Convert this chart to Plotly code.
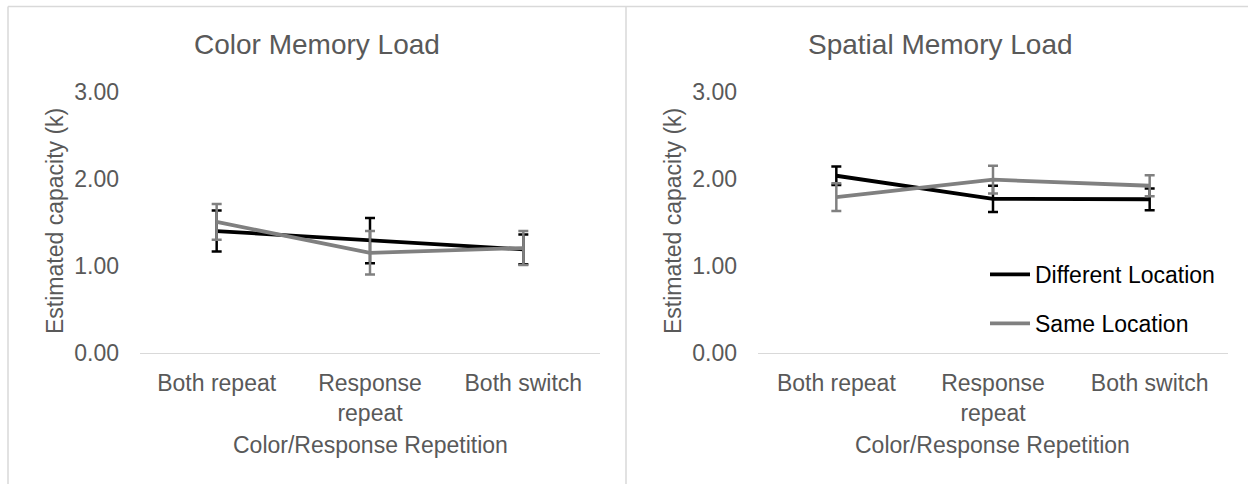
import plotly.graph_objects as go

# Condition labels on the horizontal axis
categories = ["Both repeat", "Response<br>repeat", "Both switch"]
y_ticks = [0, 1, 2, 3]

# Color memory load: estimated capacity (k) and error half-widths
color_diff = [1.40, 1.29, 1.19]
color_diff_err = [0.235, 0.26, 0.17]
color_same = [1.505, 1.15, 1.205]
color_same_err = [0.205, 0.25, 0.195]

# Spatial memory load
spatial_diff = [2.035, 1.77, 1.765]
spatial_diff_err = [0.105, 0.15, 0.125]
spatial_same = [1.79, 1.99, 1.92]
spatial_same_err = [0.16, 0.16, 0.12]

W, H = 1248, 484
BLACK = "#000000"
GRAY = "#808080"
TEXT = "#595959"
FRAME = "#d9d9d9"
FONT = "Liberation Sans, Arial, sans-serif"


def px(x):
    return x / W


def py(y):
    return 1 - y / H


def series(x_ax, y_ax, vals, errs, color, name, show):
    return go.Scatter(
        x=categories, y=vals, mode="lines", name=name,
        line=dict(color=color, width=3.8),
        error_y=dict(type="data", array=errs, color=color, thickness=2.5, width=5),
        xaxis=x_ax, yaxis=y_ax, showlegend=show, legendgroup=name,
        hoverinfo="skip",
    )


fig = go.Figure()
fig.add_trace(series("x", "y", color_diff, color_diff_err, BLACK, "Different Location", False))
fig.add_trace(series("x", "y", color_same, color_same_err, GRAY, "Same Location", False))
fig.add_trace(series("x2", "y2", spatial_diff, spatial_diff_err, BLACK, "Different Location", True))
fig.add_trace(series("x2", "y2", spatial_same, spatial_same_err, GRAY, "Same Location", True))

xcommon = dict(
    type="category", range=[-0.5, 2.5], showgrid=False, zeroline=False,
    showline=True, linecolor=FRAME, linewidth=1.3, ticks="",
    tickfont=dict(family=FONT, size=23, color=TEXT), ticklabelstandoff=9,
    fixedrange=True, automargin=False,
)
ycommon = dict(
    range=[0, 3], tickvals=y_ticks, tickformat=".2f", showgrid=False,
    zeroline=False, showline=False, ticks="",
    tickfont=dict(family=FONT, size=23, color=TEXT), ticklabelstandoff=20,
    fixedrange=True, automargin=False,
)

y_dom = [py(353), py(91.7)]

fig.update_layout(
    template="none",
    width=W, height=H,
    margin=dict(l=0, r=0, t=0, b=0, autoexpand=False),
    paper_bgcolor="white", plot_bgcolor="white",
    font=dict(family=FONT, size=23, color=TEXT),
    xaxis=dict(domain=[px(140), px(600)], anchor="y", **xcommon),
    yaxis=dict(domain=y_dom, anchor="x", **ycommon),
    xaxis2=dict(domain=[px(758), px(1228)], anchor="y2", **xcommon),
    yaxis2=dict(domain=y_dom, anchor="x2", **ycommon),
    legend=dict(
        x=px(985), y=py(253), xanchor="left", yanchor="top",
        font=dict(family=FONT, size=23, color="#000000"),
        bgcolor="rgba(0,0,0,0)", borderwidth=0, tracegroupgap=16, itemwidth=40,
        traceorder="grouped",
    ),
    showlegend=True,
)

annotations = []
# Chart titles
for cx, txt in [(317, "Color Memory Load"), (940, "Spatial Memory Load")]:
    annotations.append(dict(
        x=px(cx), y=py(45), xref="paper", yref="paper", text=txt,
        showarrow=False, xanchor="center", yanchor="middle",
        font=dict(family=FONT, size=28, color=TEXT),
    ))
# Axis titles
for cx, ylx in [(370, 55), (993, 673)]:
    annotations.append(dict(
        x=px(cx), y=py(445), xref="paper", yref="paper",
        text="Color/Response Repetition", showarrow=False,
        xanchor="center", yanchor="middle",
        font=dict(family=FONT, size=23, color=TEXT),
    ))
    annotations.append(dict(
        x=px(ylx), y=py(221), xref="paper", yref="paper",
        text="Estimated capacity (k)", showarrow=False, textangle=-90,
        xanchor="center", yanchor="middle",
        font=dict(family=FONT, size=23, color=TEXT),
    ))
fig.update_layout(annotations=annotations)

# Panel frames
shapes = [
    dict(type="line", xref="paper", yref="paper", x0=px(8), x1=px(8), y0=0, y1=py(6.5)),
    dict(type="line", xref="paper", yref="paper", x0=px(626), x1=px(626), y0=0, y1=py(6.5)),
    dict(type="line", xref="paper", yref="paper", x0=px(8), x1=1, y0=py(6.5), y1=py(6.5)),
]
for s in shapes:
    s["line"] = dict(color=FRAME, width=1.5)
fig.update_layout(shapes=shapes)

fig.write_html("out.html")
